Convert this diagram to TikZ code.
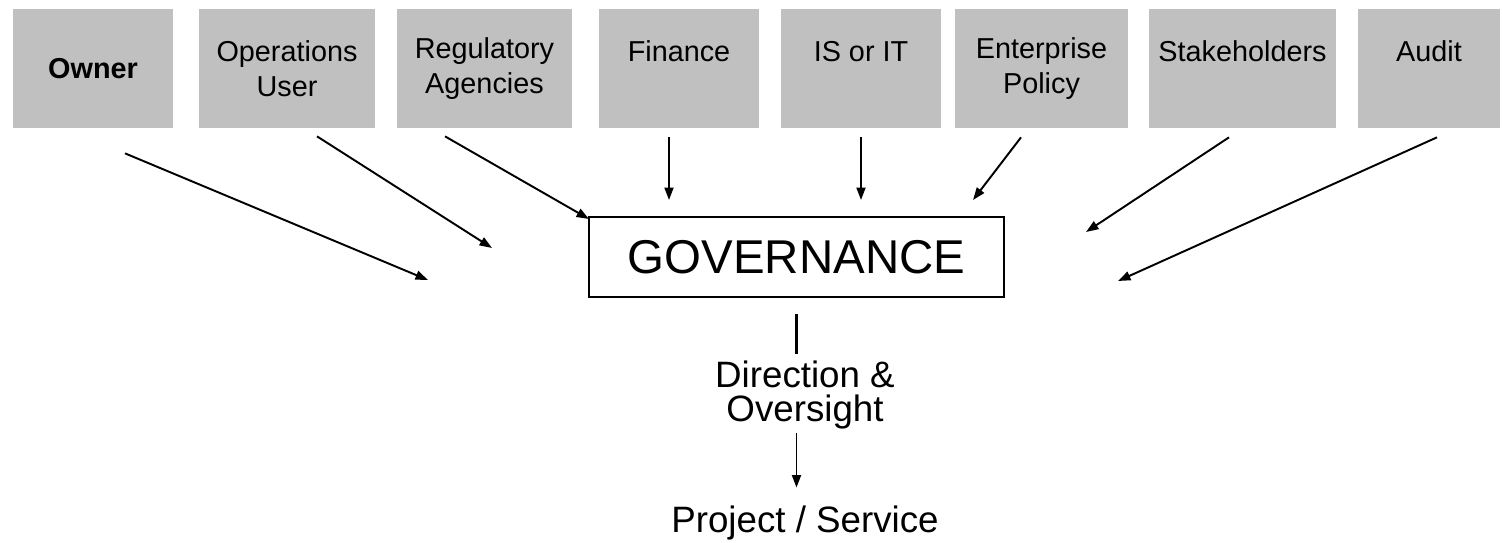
\documentclass[tikz,border=0pt]{standalone}
\usepackage{fontspec}
\setmainfont{Liberation Sans}
\usepackage{tikz}
\usetikzlibrary{arrows.meta,calc}
\definecolor{boxgray}{RGB}{192,192,192}

\begin{document}
\begin{tikzpicture}[x=0.02cm, y=-0.02cm,
  party/.style={fill=boxgray, minimum height=2.38cm, inner sep=0pt, align=center,
    font=\fontsize{16.4}{19.8}\selectfont},
  feed/.style={-{Triangle[length=0.25cm,width=0.18cm]}, line width=1.1pt}]
  \useasboundingbox (0,0) rectangle (1502,542);
  % boxes along the top
  \node[party, minimum width=3.2cm]  (owner) at (93,68.5)    {\textbf{Owner}};
  \node[party, minimum width=3.52cm] (ops)   at (287,68.5)   {Operations\\User};
  \node[party, minimum width=3.5cm]  (reg)   at (484.5,68.5) {Regulatory\\Agencies};
  \node[party, minimum width=3.2cm]  (fin)   at (679,68.5)   {Finance\\ \mbox{}};
  \node[party, minimum width=3.2cm]  (isit)  at (861,68.5)   {IS or IT\\ \mbox{}};
  \node[party, minimum width=3.46cm] (ent)   at (1041.5,68.5) {Enterprise\\Policy};
  \node[party, minimum width=3.74cm] (stake) at (1242.5,68.5) {Stakeholders\\ \mbox{}};
  \node[party, minimum width=2.86cm] (audit) at (1429,68.5)  {Audit\\ \mbox{}};

  \node[draw, line width=1.2pt, minimum width=8.3cm, minimum height=1.6cm,
    font=\fontsize{27}{32}\selectfont] (gov) at (796.5,257) {GOVERNANCE};

  % inputs into governance
  \foreach \src/\dx/\dy/\ex/\ey in {owner/32/25/428/280, ops/30/8/492/248,
      reg/-39.5/8/589/219, fin/-10/9/669/200, isit/0/9/861/200,
      ent/-20.5/9/973/200, stake/-13.5/9/1086/232, audit/8/9/1118/281}{
    \coordinate (\src tip) at (\ex,\ey);
    \draw[feed] ($(\src.south)+(\dx,\dy)$) -- (\src tip);
  }

  \node[align=center, inner sep=0pt, font=\fontsize{20.9}{19.8}\selectfont]
    (dir) at (805,395) {Direction \&\\Oversight};
  \node[inner sep=0pt, font=\fontsize{20.9}{25}\selectfont]
    (proj) at (805,523) {Project / Service};

  \draw[line width=1.7pt, shorten <=0.32cm, shorten >=0.12cm]
    (gov.south) -- (gov.south |- dir.north);
  \draw[feed, shorten <=0.06cm, shorten >=0.36cm]
    (gov.south |- dir.south) -- (gov.south |- proj.north);
\end{tikzpicture}
\end{document}
